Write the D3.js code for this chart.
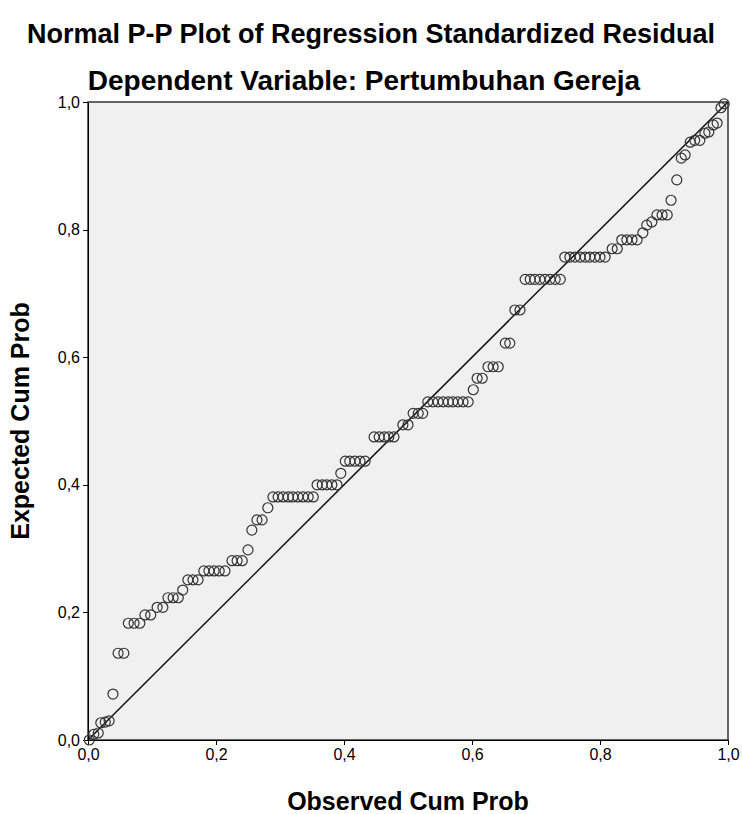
<!DOCTYPE html>
<html lang="en">
<head>
    <meta charset="UTF-8">
    <title>Normal P-P Plot</title>
    <style>
        body { margin: 0; background: #fff; }
        svg { font-family: "Liberation Sans", Arial, sans-serif; }
        .axis path, .axis line { fill: none; stroke: #000; shape-rendering: crispEdges; }
        .axis text { font-size: 16px; fill: #000; }
    </style>
</head>
<body>
<script src="https://cdn.jsdelivr.net/npm/d3@7"></script>
<script>
    // observed cumulative probability (x) and expected cumulative probability (y)
    var obsProb = [
        .002, .009, .016, .020, .027, .033, .039, .047, .056, .063,
        .072, .081, .089, .098, .108, .117, .125, .133, .141, .148,
        .156, .164, .172, .181, .189, .197, .205, .214, .225, .233,
        .241, .250, .256, .264, .272, .281, .289, .297, .305, .313,
        .320, .328, .336, .344, .352, .358, .366, .373, .381, .389,
        .395, .402, .409, .417, .425, .433, .447, .455, .463, .470,
        .478, .492, .500, .508, .516, .523, .531, .539, .547, .555,
        .563, .570, .578, .586, .594, .602, .608, .616, .625, .633,
        .641, .652, .659, .667, .675, .683, .691, .698, .706, .714,
        .722, .730, .738, .745, .753, .761, .769, .777, .784, .792,
        .800, .808, .819, .827, .834, .842, .850, .858, .867, .873,
        .881, .889, .897, .905, .911, .920, .927, .933, .941, .948,
        .956, .964, .970, .977, .983, .989, .994
    ];
    var expProb = [
        .000, .009, .011, .027, .028, .030, .072, .136, .136, .183,
        .183, .183, .196, .196, .208, .208, .223, .223, .223, .235,
        .251, .251, .251, .265, .265, .265, .265, .265, .281, .281,
        .281, .298, .329, .345, .345, .364, .381, .381, .381, .381,
        .381, .381, .381, .381, .381, .400, .400, .400, .400, .400,
        .418, .437, .437, .437, .437, .437, .475, .475, .475, .475,
        .475, .494, .494, .512, .512, .512, .530, .530, .530, .530,
        .530, .530, .530, .530, .530, .549, .567, .567, .585, .585,
        .585, .622, .622, .674, .674, .722, .722, .722, .722, .722,
        .722, .722, .722, .757, .757, .757, .757, .757, .757, .757,
        .757, .757, .770, .770, .784, .784, .784, .784, .795, .807,
        .812, .823, .823, .823, .846, .878, .912, .917, .937, .940,
        .940, .951, .953, .964, .967, .991, .997
    ];
    var tickValues = [0, 0.2, 0.4, 0.6, 0.8, 1.0];
    var tickLabels = ["0,0", "0,2", "0,4", "0,6", "0,8", "1,0"];
    var diagonal = [0, 1];

    var width = 742, height = 814;
    var margin = {left: 88, right: 14, top: 102, bottom: 74};

    var svg = d3.select("body").append("svg")
        .attr("width", width)
        .attr("height", height);

    var x = d3.scaleLinear().domain([0, 1]).range([margin.left, width - margin.right]);
    var y = d3.scaleLinear().domain([0, 1]).range([height - margin.bottom, margin.top]);

    // plot background
    svg.append("rect")
        .attr("x", x(0))
        .attr("y", y(1))
        .attr("width", x(1) - x(0))
        .attr("height", y(0) - y(1))
        .attr("fill", "#f0f0f0")
        .attr("stroke", "#333")
        .attr("stroke-width", 1.5);

    // axes
    var fmt = function(d) { return tickLabels[tickValues.indexOf(d)]; };
    svg.append("g")
        .attr("class", "axis")
        .attr("transform", "translate(0," + y(0) + ")")
        .call(d3.axisBottom(x).tickValues(tickValues).tickFormat(fmt).tickSizeOuter(0).tickSizeInner(5).tickPadding(4));
    svg.append("g")
        .attr("class", "axis")
        .attr("transform", "translate(" + x(0) + ",0)")
        .call(d3.axisLeft(y).tickValues(tickValues).tickFormat(fmt).tickSizeOuter(0).tickSizeInner(5).tickPadding(3));

    // reference line
    svg.append("line")
        .attr("x1", x(diagonal[0]))
        .attr("y1", y(diagonal[0]))
        .attr("x2", x(diagonal[1]))
        .attr("y2", y(diagonal[1]))
        .attr("stroke", "#111")
        .attr("stroke-width", 1.5);

    // points
    svg.append("g").selectAll("circle")
        .data(obsProb)
        .enter()
        .append("circle")
        .attr("cx", function(d) { return x(d); })
        .attr("cy", function(d, i) { return y(expProb[i]); })
        .attr("r", 5)
        .attr("fill", "none")
        .attr("stroke", "#333")
        .attr("stroke-width", 1.2);

    // titles
    svg.append("text")
        .attr("x", 371)
        .attr("y", 43)
        .attr("text-anchor", "middle")
        .style("font-size", "27px")
        .style("font-weight", "bold")
        .text("Normal P-P Plot of Regression Standardized Residual");
    svg.append("text")
        .attr("x", 364)
        .attr("y", 90)
        .attr("text-anchor", "middle")
        .style("font-size", "28px")
        .style("font-weight", "bold")
        .text("Dependent Variable: Pertumbuhan Gereja");

    svg.append("text")
        .attr("x", x(0.5))
        .attr("y", 810)
        .attr("text-anchor", "middle")
        .style("font-size", "25px")
        .style("font-weight", "bold")
        .text("Observed Cum Prob");
    svg.append("text")
        .attr("transform", "translate(29," + y(0.5) + ") rotate(-90)")
        .attr("text-anchor", "middle")
        .style("font-size", "25px")
        .style("font-weight", "bold")
        .text("Expected Cum Prob");
</script>
</body>
</html>
